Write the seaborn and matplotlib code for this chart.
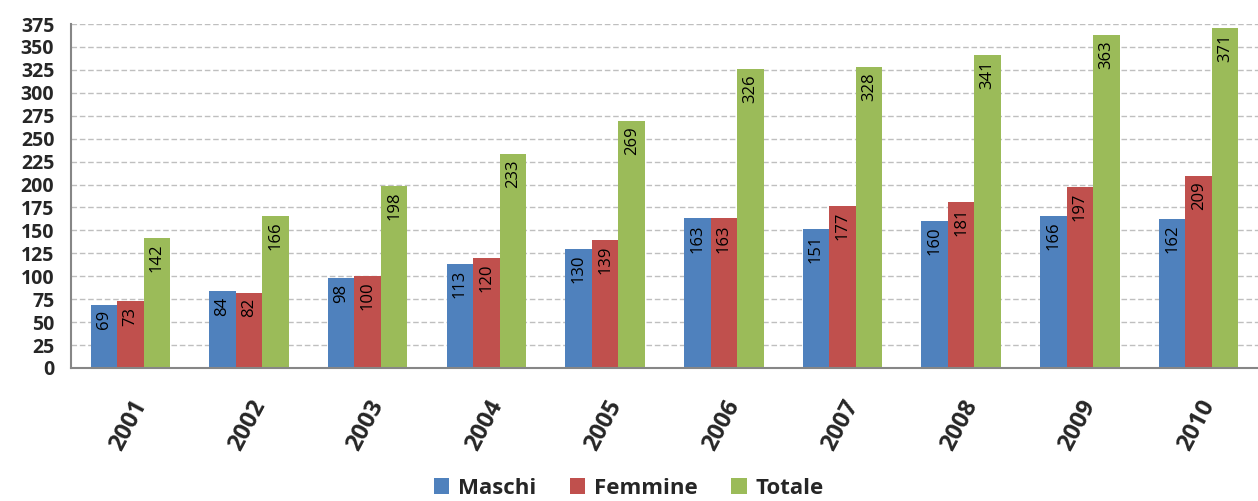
import numpy as np
import pandas as pd
import matplotlib
matplotlib.use("Agg")
import matplotlib.pyplot as plt
import seaborn as sns

sns.set_style("white")
plt.rcParams['font.family'] = ['Open Sans', 'DejaVu Sans']

# Data
years = ['2001', '2002', '2003', '2004', '2005', '2006', '2007', '2008', '2009', '2010']
maschi = [69, 84, 98, 113, 130, 163, 151, 160, 166, 162]
femmine = [73, 82, 100, 120, 139, 163, 177, 181, 197, 209]
totale = [142, 166, 198, 233, 269, 326, 328, 341, 363, 371]
series = ['Maschi', 'Femmine', 'Totale']
colors = ['#4F81BD', '#C0504D', '#9BBB59']

df = pd.DataFrame({'Anno': years, 'Maschi': maschi, 'Femmine': femmine, 'Totale': totale})
df = df.melt(id_vars='Anno', var_name='Serie', value_name='Valore')

fig = plt.figure(figsize=(12.58, 5.01), dpi=100)
ax = fig.add_axes([0.0564, 0.2655, 0.9436, 0.6865])

sns.barplot(data=df, x='Anno', y='Valore', hue='Serie', hue_order=series,
            palette=colors, width=0.67, gap=0, saturation=1, linewidth=0,
            ax=ax, legend=True)

# value labels inside the top of each bar, rotated
for cont in ax.containers:
    for bar in cont:
        h = bar.get_height()
        ax.annotate(f'{h:.0f}', (bar.get_x() + bar.get_width() / 2, h),
                    xytext=(0, -4), textcoords='offset points',
                    ha='center', va='top', rotation=90, fontsize=12, color='black')

ax.set_ylim(0, 375)
ax.set_yticks(np.arange(0, 376, 25))
ax.set_xlim(-0.5, 9.5)
ax.yaxis.grid(True, linestyle=(0, (4, 2)), color='#BFBFBF', linewidth=1)
ax.set_axisbelow(True)
for s in ['top', 'right']:
    ax.spines[s].set_visible(False)
for s in ['left', 'bottom']:
    ax.spines[s].set_color('#868686')
    ax.spines[s].set_linewidth(1.5)

ax.tick_params(axis='y', direction='out', length=6, color='#868686', width=1.5,
               labelsize=14, pad=6)
for lab in ax.get_yticklabels():
    lab.set_fontweight('bold')

ax.tick_params(axis='x', which='major', length=0, labelsize=17, pad=20)
ax.set_xticks(np.arange(-0.5, 10, 1), minor=True)
ax.tick_params(axis='x', which='minor', direction='out', length=8, color='#868686', width=1.5)
for lab in ax.get_xticklabels():
    lab.set_fontweight('bold')
    lab.set_rotation(62)
    lab.set_ha('right')
    lab.set_rotation_mode('anchor')

ax.set_xlabel('')
ax.set_ylabel('')

handles, labels = ax.get_legend_handles_labels()
ax.get_legend().remove()
fig.legend(handles, labels, loc='lower center', bbox_to_anchor=(0.5, -0.035), ncol=3, frameon=False,
           prop={'weight': 'bold', 'size': 16}, handlelength=0.7, handleheight=0.7,
           handletextpad=0.4, columnspacing=1.5)

fig.savefig('out.png', dpi=100)
